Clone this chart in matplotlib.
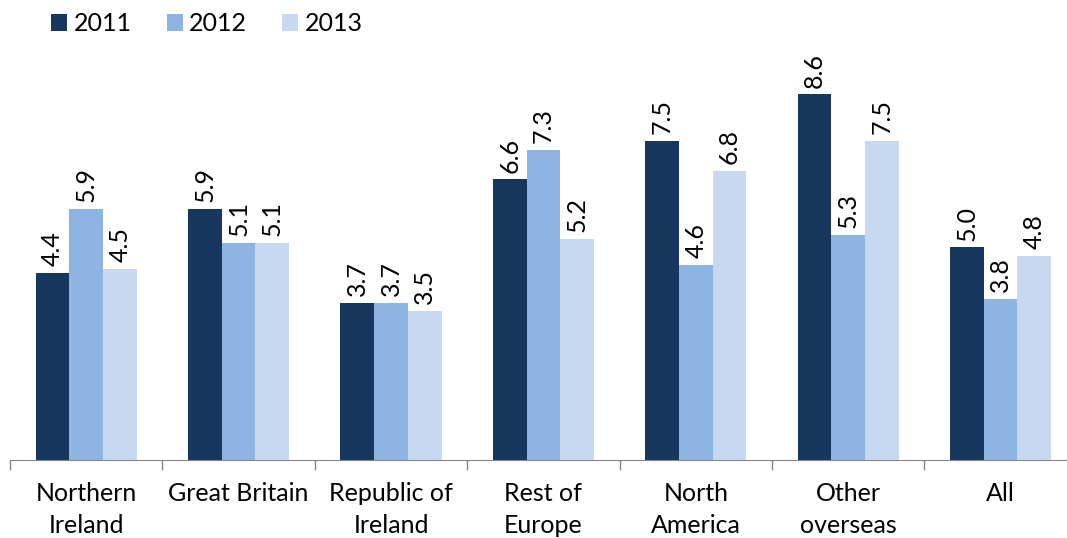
import matplotlib
matplotlib.use("Agg")
import matplotlib.pyplot as plt
import numpy as np

categories = ["Northern\nIreland", "Great Britain", "Republic of\nIreland", "Rest of\nEurope",
              "North\nAmerica", "Other\noverseas", "All"]
years = ["2011", "2012", "2013"]
v2011 = [4.4, 5.9, 3.7, 6.6, 7.5, 8.6, 5.0]
v2012 = [5.9, 5.1, 3.7, 7.3, 4.6, 5.3, 3.8]
v2013 = [4.5, 5.1, 3.5, 5.2, 6.8, 7.5, 4.8]
colors = ["#17375E", "#8DB4E2", "#C6D9F1"]

plt.rcParams['font.family'] = ['Lato', 'DejaVu Sans']
FS = 18

fig = plt.figure(figsize=(10.67, 5.38), dpi=100)
ax = fig.add_axes([10/1067, 78/538, 7*152.4/1067, 425/538])

x = np.arange(len(categories))
w = 0.221
series = [v2011, v2012, v2013]
for i, (vals, c, yr) in enumerate(zip(series, colors, years)):
    pos = x + (i - 1) * w
    bars = ax.bar(pos, vals, width=w, color=c, label=yr)
    for b, v in zip(bars, vals):
        ax.annotate(f"{v:.1f}", (b.get_x() + b.get_width()/2, b.get_height()),
                    xytext=(0, 5), textcoords="offset points", rotation=90,
                    ha="center", va="bottom", fontsize=FS)

ax.set_xlim(-0.5, len(categories) - 0.5)
ax.set_ylim(0, 10)
ax.set_yticks([])
for s in ["top", "right", "left"]:
    ax.spines[s].set_visible(False)
ax.spines["bottom"].set_color("#868686")
ax.set_xticks(np.arange(-0.5, len(categories)), minor=False)
ax.set_xticklabels([])
ax.tick_params(axis="x", length=7, color="#868686", width=1)
ax.set_xticks(x, minor=True)
ax.set_xticklabels(categories, minor=True, fontsize=FS, linespacing=1.45, va="top")
ax.tick_params(axis="x", which="minor", length=0, pad=16)

leg = fig.legend(loc="upper left", bbox_to_anchor=(41/1067, 1 - 2/538), ncol=3, frameon=False,
                 fontsize=FS, handlelength=0.65, handleheight=0.65, handletextpad=0.25,
                 columnspacing=1.4, borderaxespad=0)

fig.savefig("out.png", dpi=100)
